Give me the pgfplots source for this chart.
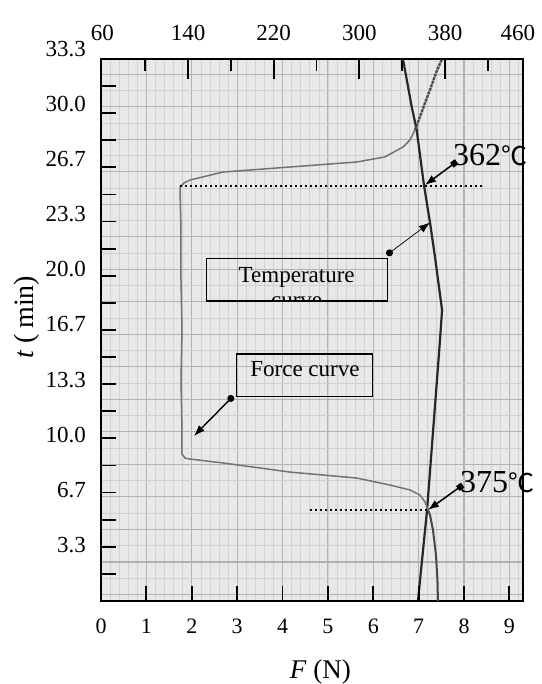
\documentclass[border=0pt]{standalone}
\usepackage{pgfplots}
\pgfplotsset{compat=1.18}
\usetikzlibrary{arrows.meta}
\usepackage{fontspec}
\setmainfont{Liberation Serif}
\newfontfamily\cjk{Noto Sans CJK SC}
\newcommand\fs[1]{\fontsize{#1}{#1}\selectfont}
\newcommand\rl[2]{\raisebox{#1}[\height][\depth]{#2}}
\begin{document}
\begin{tikzpicture}[x=1pt,y=1pt]
\path[use as bounding box] (0,0) rectangle (541,684);
\pgfplotsset{frame/.style={at={(101pt,83pt)}, anchor=south west, scale only axis,
  width=422pt, height=542pt, ymin=0, ymax=33.3333}}
% recorder paper grid
\begin{axis}[frame, xmin=0, xmax=9.3,
  axis background/.style={fill=black!9},
  axis line style={draw=none},
  xtick={0,1,2,3,4,5,6,7,8,9}, minor xtick={0.2,0.4,...,9.2},
  ytick={0.4,2.4,...,32.4}, minor ytick={1.4,3.4,...,33.4},
  xticklabels={}, yticklabels={},
  ticklabel style={text opacity=0, font=\tiny},
  tick style={draw=none},
  grid=both, major grid style={black!30, line width=1.1pt},
  minor grid style={black!18, line width=0.6pt}]
\end{axis}
% temperature axis (top)
\begin{axis}[frame, xmin=58.7, xmax=452.8,
  axis line style={draw=none},
  xtick pos=right, xticklabel pos=right, ytick=\empty,
  tick align=inside,
  xtick={140,220,300,380}, minor xtick={100,180,260,340,420},
  xticklabels={140,220,300,380},
  major tick length=20pt, minor tick length=12pt,
  tick style={line width=1.8pt, black},
  extra x ticks={60,448}, extra x tick labels={60,460},
  extra x tick style={major tick length=0pt},
  xticklabel style={font=\fs{23}, inner sep=0pt},
  xticklabel shift=18pt]
\addplot[black!85, line width=2.2pt] coordinates {
  (354.7,0) (363.2,5.60) (375.3,16.05) (377.2,17.90) (370.6,21.16)
  (366.0,23.25) (360.3,25.58) (353.5,28.97) (348.9,30.38) (340.7,33.33)};
\end{axis}
% force axis (bottom / left)
\begin{axis}[frame, xmin=0, xmax=9.3, clip=false,
  axis line style={line width=1.4pt},
  tick align=inside, xtick pos=left, ytick pos=left,
  xtick={0,1,2,3,4,5,6,7,8,9}, xticklabels={0,1,2,3,4,5,6,7,8,9},
  ytick={3.3333,6.6667,10,13.3333,16.6667,20,23.3333,26.6667,30,33.3333},
  minor ytick={1.6667,5,8.3333,11.6667,15,18.3333,21.6667,25,28.3333,31.6667},
  yticklabels={\rl{1.8pt}{3.3},\rl{2.7pt}{6.7},\rl{3.7pt}{10.0},\rl{4.6pt}{13.3},
    \rl{5.6pt}{16.7},\rl{6.5pt}{20.0},\rl{7.5pt}{23.3},\rl{8.4pt}{26.7},
    \rl{9.4pt}{30.0},\rl{10.3pt}{33.3}},
  major tick length=15pt, minor tick length=15pt,
  tick style={line width=1.8pt, black},
  ticklabel style={inner sep=0pt},
  xticklabel style={font=\fs{22}}, yticklabel style={font=\fs{23}},
  xticklabel shift=18pt, yticklabel shift=15pt,
  xlabel={\textit{F} (N)},
  xlabel style={at={(axis description cs:0.520,-0.1439)}, anchor=base, font=\fs{27}},
  ylabel={\textit{t}\hspace{6pt}(\hspace{6pt}min)},
  ylabel style={at={(axis description cs:-0.161,0.524)}, anchor=base, font=\fs{28}}]
% force curve: lower trace (dark), middle trace (light), upper trace (dark)
\addplot[black!72, line width=2pt] coordinates {
  (7.426,0) (7.415,1.29) (7.382,2.83) (7.316,4.37) (7.250,5.29) (7.206,5.60)};
\addplot[black!55, line width=1.5pt] coordinates {
  (7.206,5.60)
  (7.140,6.09) (7.029,6.52) (6.809,6.83) (6.368,7.13) (5.641,7.56) (4.165,7.93)
  (2.688,8.49) (1.961,8.73) (1.851,8.79) (1.785,9.04) (1.785,10.52) (1.763,13.59)
  (1.785,16.67) (1.763,19.74) (1.763,22.82) (1.741,25.28) (1.741,25.46)
  (1.829,25.71) (1.961,25.89) (2.688,26.38) (4.165,26.69) (5.641,27.00)
  (6.258,27.31) (6.655,27.92) (6.809,28.35) (6.919,28.97)};
\addplot[black!70, line width=2.4pt, dash pattern=on 3pt off 0.8pt] coordinates {
  (6.919,28.97) (7.029,29.77)
  (7.140,30.63) (7.250,31.43) (7.382,32.47) (7.514,33.33)};
% dotted guide lines
\draw[black, line width=2.2pt, dash pattern=on 2.4pt off 2.6pt]
  (axis cs:1.741,25.54) -- (axis cs:8.418,25.54);
\draw[black, line width=2.2pt, dash pattern=on 2.4pt off 2.6pt]
  (axis cs:4.606,5.60) -- (axis cs:7.184,5.60);
% 362 and 375 annotations
\draw[line width=1.5pt, {Square[length=6pt]}-{Latex[length=11pt,width=8pt]}]
  (axis cs:7.838,27.02) -- (axis cs:7.14,25.58);
\node[anchor=west, inner sep=0pt, font=\fs{32}] at (axis cs:7.757,27.43) {362{\cjk\fs{26}℃}};
\draw[line width=1.5pt, {Square[length=6pt]}-{Latex[length=11pt,width=8pt]}]
  (axis cs:7.97,7.13) -- (axis cs:7.206,5.60);
\node[anchor=west, inner sep=0pt, font=\fs{32}] at (axis cs:7.911,7.34) {375{\cjk\fs{26}℃}};
% temperature curve label
\begin{scope}
\clip (axis cs:2.329,18.45) rectangle (axis cs:6.318,21.08);
\node[anchor=base, inner sep=0pt, font=\fs{23}] at (axis cs:4.312,19.58) {Temperature};
\node[anchor=base, inner sep=0pt, font=\fs{23}] at (axis cs:4.312,18.08) {curve};
\end{scope}
\draw[line width=1.3pt] (axis cs:2.329,18.45) rectangle (axis cs:6.318,21.08);
\draw[line width=0.7pt, {Circle[length=7pt]}-{Latex[length=11pt,width=8pt]}]
  (axis cs:6.296,21.28) -- (axis cs:7.250,23.27);
% force curve label
\draw[line width=1.3pt] (axis cs:2.990,12.56) rectangle (axis cs:5.987,15.19);
\node[anchor=base, inner sep=0pt, font=\fs{23}] at (axis cs:4.495,13.79) {Force curve};
\draw[line width=1.4pt, {Circle[length=7pt]}-{Latex[length=11pt,width=8pt]}]
  (axis cs:2.915,12.61) -- (axis cs:2.049,10.15);
\end{axis}
\end{tikzpicture}
\end{document}
